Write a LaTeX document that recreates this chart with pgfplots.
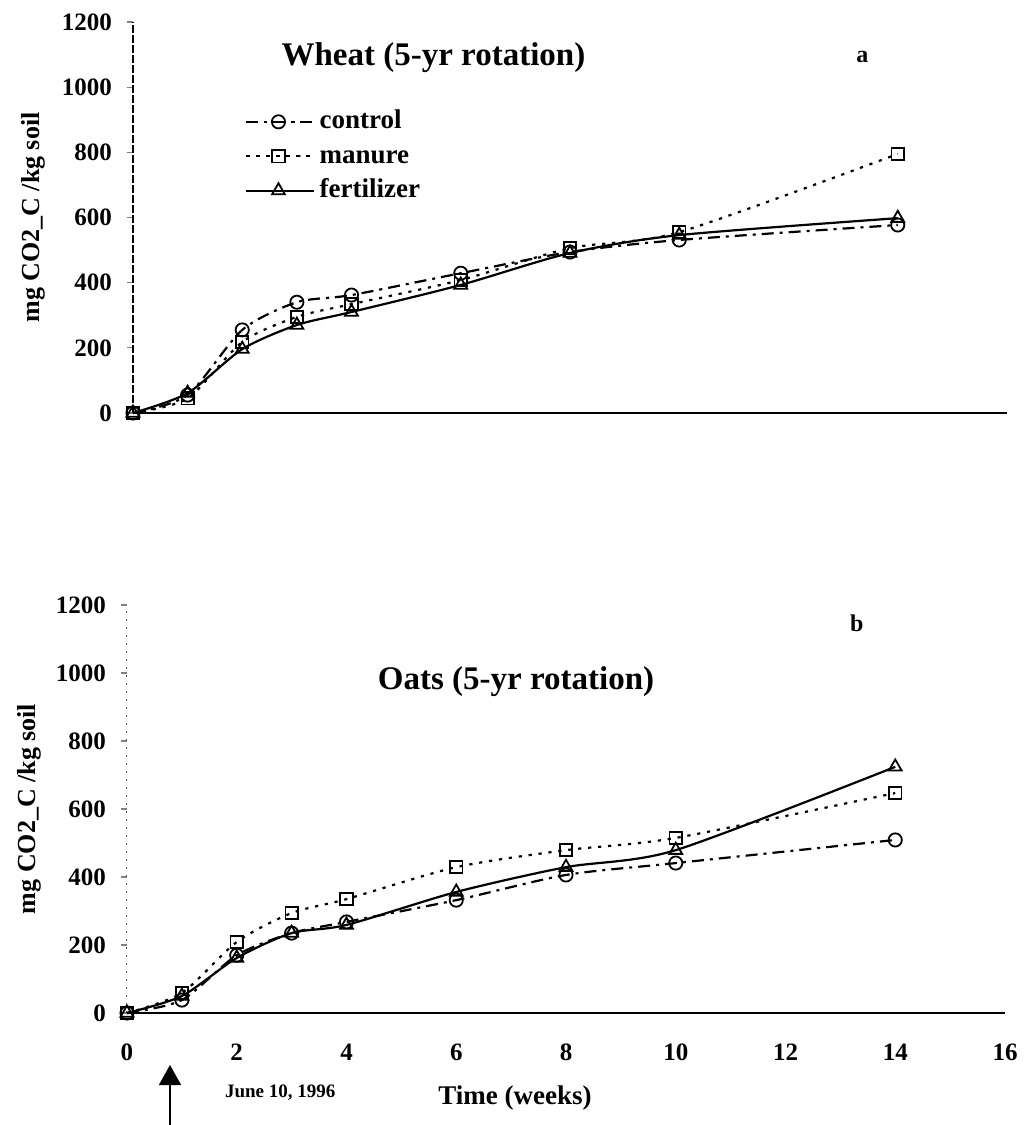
\documentclass[border=0pt]{standalone}
\usepackage{fontspec}
\setmainfont{Liberation Serif}
\usepackage{pgfplots}
\usepackage{pgfplotstable}
\pgfplotsset{compat=1.18}
\usetikzlibrary{arrows.meta}

\pgfplotstableread{
w c m f
0 0 0 0
1 55 45 61
2 255 218 196
3 340 295 270
4 362 334 310
6 429 408 393
8 494 506 491
10 531 555 546
14 577 795 598
}\wheat

\pgfplotstableread{
w c m f
0 0 0 0
1 38 59 50
2 170 209 162
3 235 294 235
4 268 335 259
6 332 429 356
8 406 479 429
10 441 515 479
14 509 647 724
}\oats

\pgfplotsset{
  myaxis/.style={
    scale only axis,
    xmin=0, xmax=16, ymin=0, ymax=1200,
    axis x line*=bottom, axis y line*=left,
    axis line style={-},
    x axis line style={line width=1pt},
    ytick={0,200,...,1200},
    xtick={0,2,...,16},
    tick align=outside,
    ytick style={line width=0.6pt},
    major tick length=3pt,
    xtick style={draw=none},
    /pgf/number format/assume math mode=true,
    /pgf/number format/1000 sep={},
    ticklabel style={font=\bfseries\fontsize{12.5}{14}\selectfont},
    yticklabel style={xshift=-4pt},
    clip=false,
    every axis plot/.append style={smooth, tension=0.45, line width=1.1pt, black,
      mark options={solid, fill=white, line width=0.9pt}},
    ctrl/.style={dash pattern=on 6pt off 3pt on 1.5pt off 3pt, mark=o, mark size=3.3pt},
    man/.style={dash pattern=on 1.6pt off 3.4pt, mark=square, mark size=3.1pt},
    fert/.style={solid, mark=triangle, mark size=3.7pt},
  }
}

\begin{document}
\begin{tikzpicture}
\useasboundingbox (0,0) rectangle (514.5pt,-562.5pt);

% ---- top: wheat ----
\begin{axis}[myaxis,
  at={(66.5pt,-206.5pt)}, anchor=south west,
  width=437pt, height=195.5pt,
  xticklabels={},
  y axis line style={line width=0.6pt, dash pattern=on 4pt off 1pt},
  ylabel={mg CO2\_C /kg soil},
  every axis y label/.style={at={(axis description cs:-0.1144,0.5)}, rotate=90, anchor=center,
      font=\bfseries\fontsize{13}{15}\selectfont},
  legend style={at={(axis cs:2.05,944)}, anchor=north west, draw=none, fill=none,
    font=\bfseries\fontsize{13.5}{15}\selectfont, row sep=1.2pt, inner sep=0pt,
    nodes={text height=9.5pt, text depth=2.5pt}},
  legend cell align=left,
  legend image code/.code={\draw[#1, mark repeat=2, mark phase=2]
     plot coordinates {(0pt,0pt) (16pt,0pt) (34pt,0pt)};},
]
\addplot[ctrl] table[x=w, y=c] {\wheat};
\addplot[man] table[x=w, y=m] {\wheat};
\addplot[fert] table[x=w, y=f] {\wheat};
\legend{control, manure, fertilizer}
\node[font=\bfseries\fontsize{16.5}{18}\selectfont] at (axis cs:5.5,1092) {Wheat (5-yr rotation)};
\node[font=\bfseries\fontsize{12}{14}\selectfont] at (axis cs:13.35,1092) {a};
\end{axis}

% ---- bottom: oats ----
\begin{axis}[myaxis,
  at={(63.5pt,-506.5pt)}, anchor=south west,
  width=439pt, height=204pt,
  xticklabel style={yshift=-9pt},
  y axis line style={line width=0.5pt, dash pattern=on 1pt off 3pt, black!70},
  ylabel={mg CO2\_C /kg soil},
  every axis y label/.style={at={(axis description cs:-0.1116,0.5)}, rotate=90, anchor=center,
      font=\bfseries\fontsize{13}{15}\selectfont},
  xlabel={Time (weeks)},
  every axis x label/.style={at={(axis description cs:0.442,0)}, yshift=-42.5pt, anchor=center,
      font=\bfseries\fontsize{13.5}{15}\selectfont},
]
\addplot[ctrl] table[x=w, y=c] {\oats};
\addplot[man] table[x=w, y=m] {\oats};
\addplot[fert] table[x=w, y=f] {\oats};
\node[font=\bfseries\fontsize{16.5}{18}\selectfont] at (axis cs:7.09,976) {Oats (5-yr rotation)};
\node[font=\bfseries\fontsize{12}{14}\selectfont] at (axis cs:13.3,1147) {b};
\end{axis}

% annotation
\draw[line width=0.8pt, -{Triangle[width=11pt,length=10pt]}] (85pt,-562.5pt) -- (85pt,-532.5pt);
\node[anchor=west, font=\bfseries\fontsize{9.5}{11}\selectfont] at (109pt,-546.5pt) {June 10, 1996};
\end{tikzpicture}
\end{document}
